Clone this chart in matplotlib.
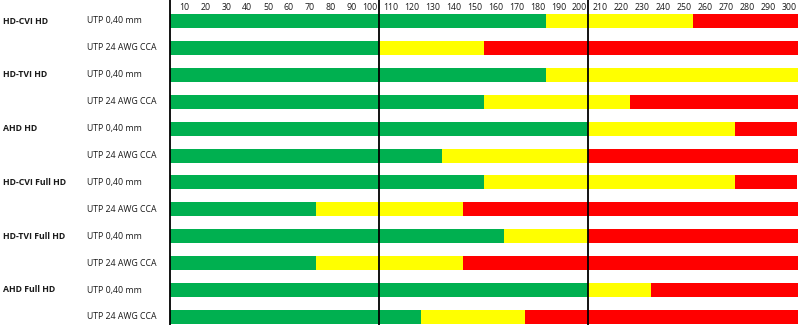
import matplotlib

matplotlib.use("Agg")

import matplotlib.pyplot as plt
from matplotlib.transforms import blended_transform_factory

# rows top to bottom
groups = ["HD-CVI HD", "HD-TVI HD", "AHD HD", "HD-CVI Full HD", "HD-TVI Full HD", "AHD Full HD"]
cables = ["UTP 0,40 mm", "UTP 24 AWG CCA"]

# segment end points (distance) per row: green end, yellow end, red end
green_end = [180, 100, 180, 150, 200, 130, 150, 70, 160, 70, 200, 120]
yellow_end = [250, 150, 300, 220, 270, 200, 270, 140, 200, 140, 230, 170]
red_end = [300] * 12

tick_values = list(range(10, 310, 10))

GREEN = "#00B050"
YELLOW = "#FFFF00"
RED = "#FF0000"

fig = plt.figure(figsize=(8.0, 3.25), dpi=100)
ax = fig.add_axes([169.5 / 800, 0.0, 628 / 800, 1.0])

rows = list(range(len(green_end)))
pitch = 26.9
ax.set_ylim((325 - 21) / pitch, -21 / pitch)
ax.set_xlim(0, 300)

h = 14 / pitch
ax.barh(rows, green_end, height=h, color=GREEN, linewidth=0)
ax.barh(rows, [y - g for g, y in zip(green_end, yellow_end)], left=green_end,
        height=h, color=YELLOW, linewidth=0)
ax.barh(rows, [r - y for y, r in zip(yellow_end, red_end)], left=yellow_end,
        height=h, color=RED, linewidth=0)

for v in (100, 200):
    ax.axvline(v, color="black", linewidth=1.3)

for s in ("top", "right", "bottom"):
    ax.spines[s].set_visible(False)
ax.spines["left"].set_linewidth(1.3)
ax.set_xticks([])
ax.set_yticks([])

font = ["Open Sans", "DejaVu Sans"]
# column headers sit right-aligned inside each 10-unit cell
for v in tick_values:
    ax.text(v - 0.5, -13 / pitch, str(v), ha="right", va="center",
            fontsize=6.3, family=font, color="#1a1a1a")

trans = blended_transform_factory(fig.transFigure, ax.transData)
for i, r in enumerate(rows):
    if i % 2 == 0:
        ax.text(3 / 800, r, groups[i // 2], transform=trans, ha="left", va="center",
                fontsize=6.3, fontweight="bold", family=font, color="#1a1a1a", clip_on=False)
    ax.text(87 / 800, r, cables[i % 2], transform=trans, ha="left", va="center",
            fontsize=6.3, family=font, color="#1a1a1a", clip_on=False)

fig.savefig("out.png", dpi=100)
